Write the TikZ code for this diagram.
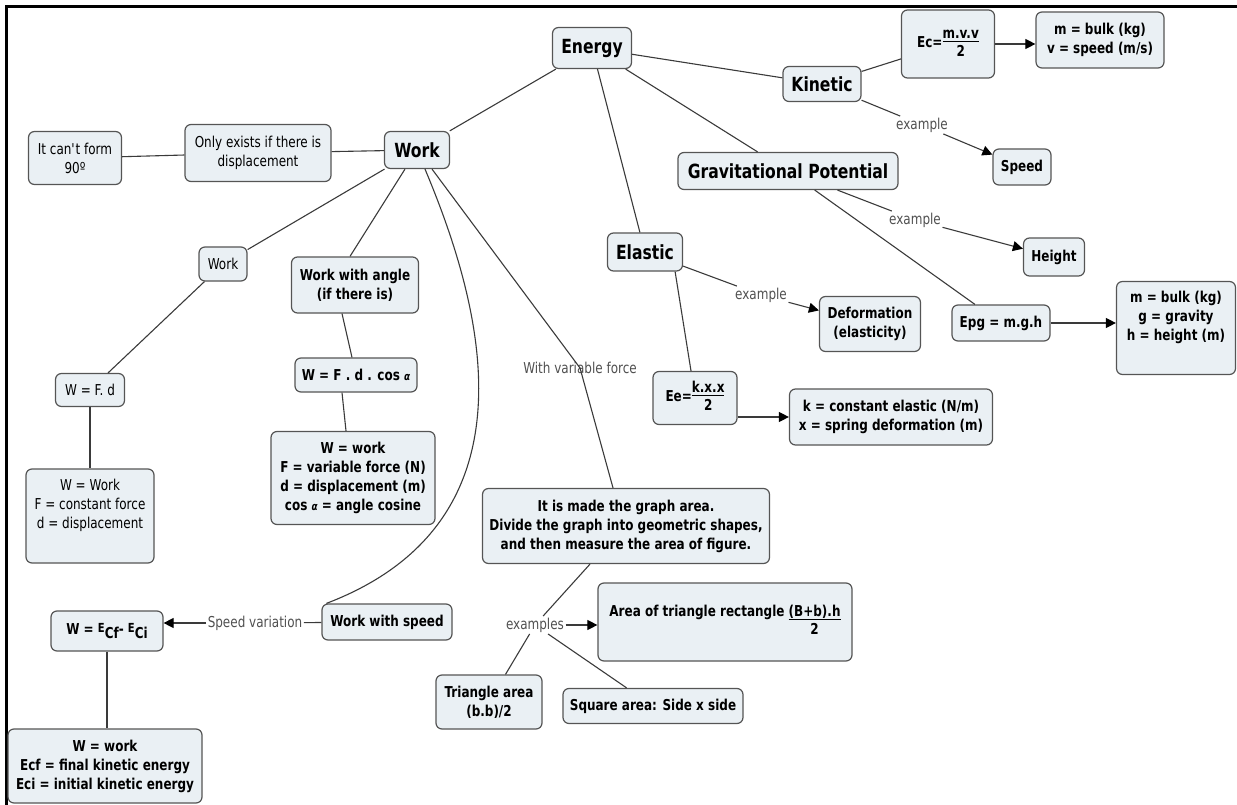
\documentclass[tikz,border=0pt]{standalone}
\usepackage{fontspec}
\setmainfont{DejaVu Sans}[FakeStretch=0.8]
\usetikzlibrary{arrows.meta}

\definecolor{boxfill}{HTML}{EAF0F4}
\definecolor{boxline}{HTML}{555555}
\definecolor{linkline}{HTML}{3A3A3A}
\definecolor{lbltext}{HTML}{505050}

% fraction made of a small table
\newcommand{\frc}[3][c]{\begin{tabular}[#1]{@{}c@{}}#2\\[-3pt]\hline\rule{0pt}{15pt}#3\end{tabular}}

\tikzset{
	box/.style={draw=boxline,fill=boxfill,line width=1.2pt,rounded corners=6pt,
		align=center,inner xsep=4pt,inner ysep=3pt,font=\fontsize{15}{19}\selectfont},
	bbox/.style={box,font=\fontsize{15}{19}\selectfont\bfseries},
	big/.style={box,font=\fontsize{19.5}{22}\selectfont\bfseries},
	lbl/.style={inner sep=1.5pt,text=lbltext,font=\fontsize{15}{16}\selectfont},
	link/.style={draw=linkline,line width=1.1pt},
	arr/.style={link,-{Triangle[length=10pt,width=10pt,color=black]}},
}

\begin{document}
\begin{tikzpicture}[x=1pt,y=-1pt]

	\useasboundingbox (0,0) rectangle (1237,805);
	\draw[line width=3pt] (6,805) -- (6,7) -- (1237,7);

	% energy and its kinds
	\node[big,minimum width=79,minimum height=41] (energy) at (592,48) {Energy};
	\node[big,minimum width=78,minimum height=35] (kinetic) at (822,84) {Kinetic};
	\node[big,minimum width=220,minimum height=37] (grav) at (788,171) {Gravitational Potential};
	\node[big,minimum width=75,minimum height=38] (elastic) at (645,252) {Elastic};
	\node[big,minimum width=65,minimum height=37] (work) at (417,150) {Work};

	% kinetic
	\node[bbox,minimum width=93,minimum height=68] (ec) at (948,44) {Ec=\frc{m.v.v}{2}};
	\node[bbox,minimum width=128,minimum height=56] (mv) at (1100,40) {m = bulk (kg)\\v = speed (m/s)};
	\node[bbox,minimum width=58,minimum height=36] (speed) at (1022,167) {Speed};
	\node[lbl] (lkin) at (922,125) {example};

	% gravitational
	\node[bbox,minimum width=61,minimum height=38] (height) at (1054,257) {Height};
	\node[bbox,minimum width=98,minimum height=36] (epg) at (1001,323) {Epg = m.g.h};
	\node[bbox,minimum width=119,minimum height=93] (mgh) at (1176,328) {m = bulk (kg)\\g = gravity\\h = height (m)\\\strut};
	\node[lbl] (lgrav) at (915,220) {example};

	% elastic
	\node[bbox,minimum width=101,minimum height=55] (deform) at (870,324) {Deformation\\(elasticity)};
	\node[bbox,minimum width=84,minimum height=53] (ee) at (695,398) {Ee=\frc{k.x.x}{2}};
	\node[bbox,minimum width=203,minimum height=56] (kx) at (891,417) {k = constant elastic (N/m)\\x = spring deformation (m)};
	\node[lbl] (lela) at (761,295) {example};

	% work
	\node[box,minimum width=146,minimum height=57] (only) at (258,153) {Only exists if there is\\displacement};
	\node[box,minimum width=93,minimum height=53] (cant) at (75,158) {It can\textquotesingle t form\\90º};
	\node[box,minimum width=48,minimum height=34] (worksm) at (223,264) {Work};
	\node[box,minimum width=69,minimum height=33] (wfd) at (90,390) {W = F. d};
	\node[box,minimum width=128,minimum height=94] (wwork1) at (90,516) {W = Work\\F = constant force\\d = displacement\\\strut};

	\node[bbox,minimum width=127,minimum height=56] (angle) at (355,285) {Work with angle\\(if there is)};
	\node[bbox,minimum width=122,minimum height=34] (wcos) at (356,375) {W = F . d . cos {\fontsize{11}{11}\selectfont\itshape α}};
	\node[bbox,minimum width=164,minimum height=93] (wwork2) at (353,478) {W = work\\F = variable force (N)\\d = displacement (m)\\cos {\fontsize{11}{11}\selectfont\itshape α} = angle cosine};
	\node[lbl] (lvar) at (580,368) {With variable force};

	\node[bbox,minimum width=130,minimum height=36] (wspeed) at (387,622) {Work with speed};
	\node[bbox,minimum width=112,minimum height=40] (we) at (107,631) {W = \raisebox{2pt}{\fontsize{12.5}{12}\selectfont E}\raisebox{-4pt}{Cf}- \raisebox{2pt}{\fontsize{12.5}{12}\selectfont E}\raisebox{-4pt}{Ci}};
	\node[bbox,minimum width=194,minimum height=74] (wwork3) at (105,766) {W = work\\Ecf = final kinetic energy\\Eci = initial kinetic energy};
	\node[lbl] (lspeedv) at (255,623) {Speed variation};

	\node[bbox,minimum width=287,minimum height=75] (graph) at (626,526) {It is made the graph area.\\Divide the graph into geometric shapes,\\and then measure the area of figure.};
	\node[bbox,minimum width=254,minimum height=78] (area) at (725,622) {Area of triangle rectangle \frc[t]{(B+b).h}{2}};
	\node[bbox,minimum width=106,minimum height=54] (tri) at (489,702) {Triangle area\\(b.b)/2};
	\node[bbox,minimum width=180,minimum height=35] (square) at (653,706) {Square area: Side x side};
	\node[lbl] (lex) at (535,625) {examples};

	% links from energy
	\draw[link] (energy) -- (work);
	\draw[link] (energy) -- (kinetic);
	\draw[link] (energy) -- (grav);
	\draw[link] (energy) -- (elastic);

	\draw[link] (kinetic) -- (ec);
	\draw[arr] (ec) -- (ec.east -| mv.west);
	\draw[link] (kinetic) -- (lkin);
	\draw[arr] (lkin) -- (speed);

	\draw[link] (grav) -- (lgrav);
	\draw[arr] (lgrav) -- (height);
	\draw[link] (grav) -- (epg);
	\draw[arr] (epg) -- (epg.east -| mgh.west);

	\draw[link] (elastic) -- (lela);
	\draw[arr] (lela) -- (deform);
	\draw[link] ([xshift=-8pt]elastic.south east) -- ([xshift=-4pt]ee.north);
	\draw[arr] (ee.east |- kx.west) -- (kx.west);

	% links from work
	\draw[link] (work) -- (only);
	\draw[link] (only) -- (cant);
	\draw[link] (work) -- (worksm);
	\draw[link] (worksm) -- (wfd);
	\draw[link] (wfd) -- (wwork1);
	\draw[link] (work) -- ([xshift=-5pt]angle.north);
	\draw[link] ([xshift=-13pt]angle.south) -- ([xshift=-4pt]wcos.north);
	\draw[link] ([xshift=-14pt]wcos.south) -- ([xshift=-7pt]wwork2.north);
	\draw[link] ([xshift=8pt]work.south) .. controls (480,300) and (545,520) .. ([xshift=5pt]wspeed.north west);
	\draw[link] ([xshift=15pt]work.south) -- (lvar.center) -- ([xshift=-13pt]graph.north);

	\draw[link] (wspeed) -- (lspeedv);
	\draw[arr] (lspeedv) -- (lspeedv -| we.east);
	\draw[link] (we) -- (we |- wwork3.north);

	\draw[link] ([xshift=-36pt]graph.south) -- (lex);
	\draw[arr] (lex) -- (lex -| area.west);
	\draw[link] (lex) -- (tri);
	\draw[link] (lex) -- (square);

\end{tikzpicture}
\end{document}
